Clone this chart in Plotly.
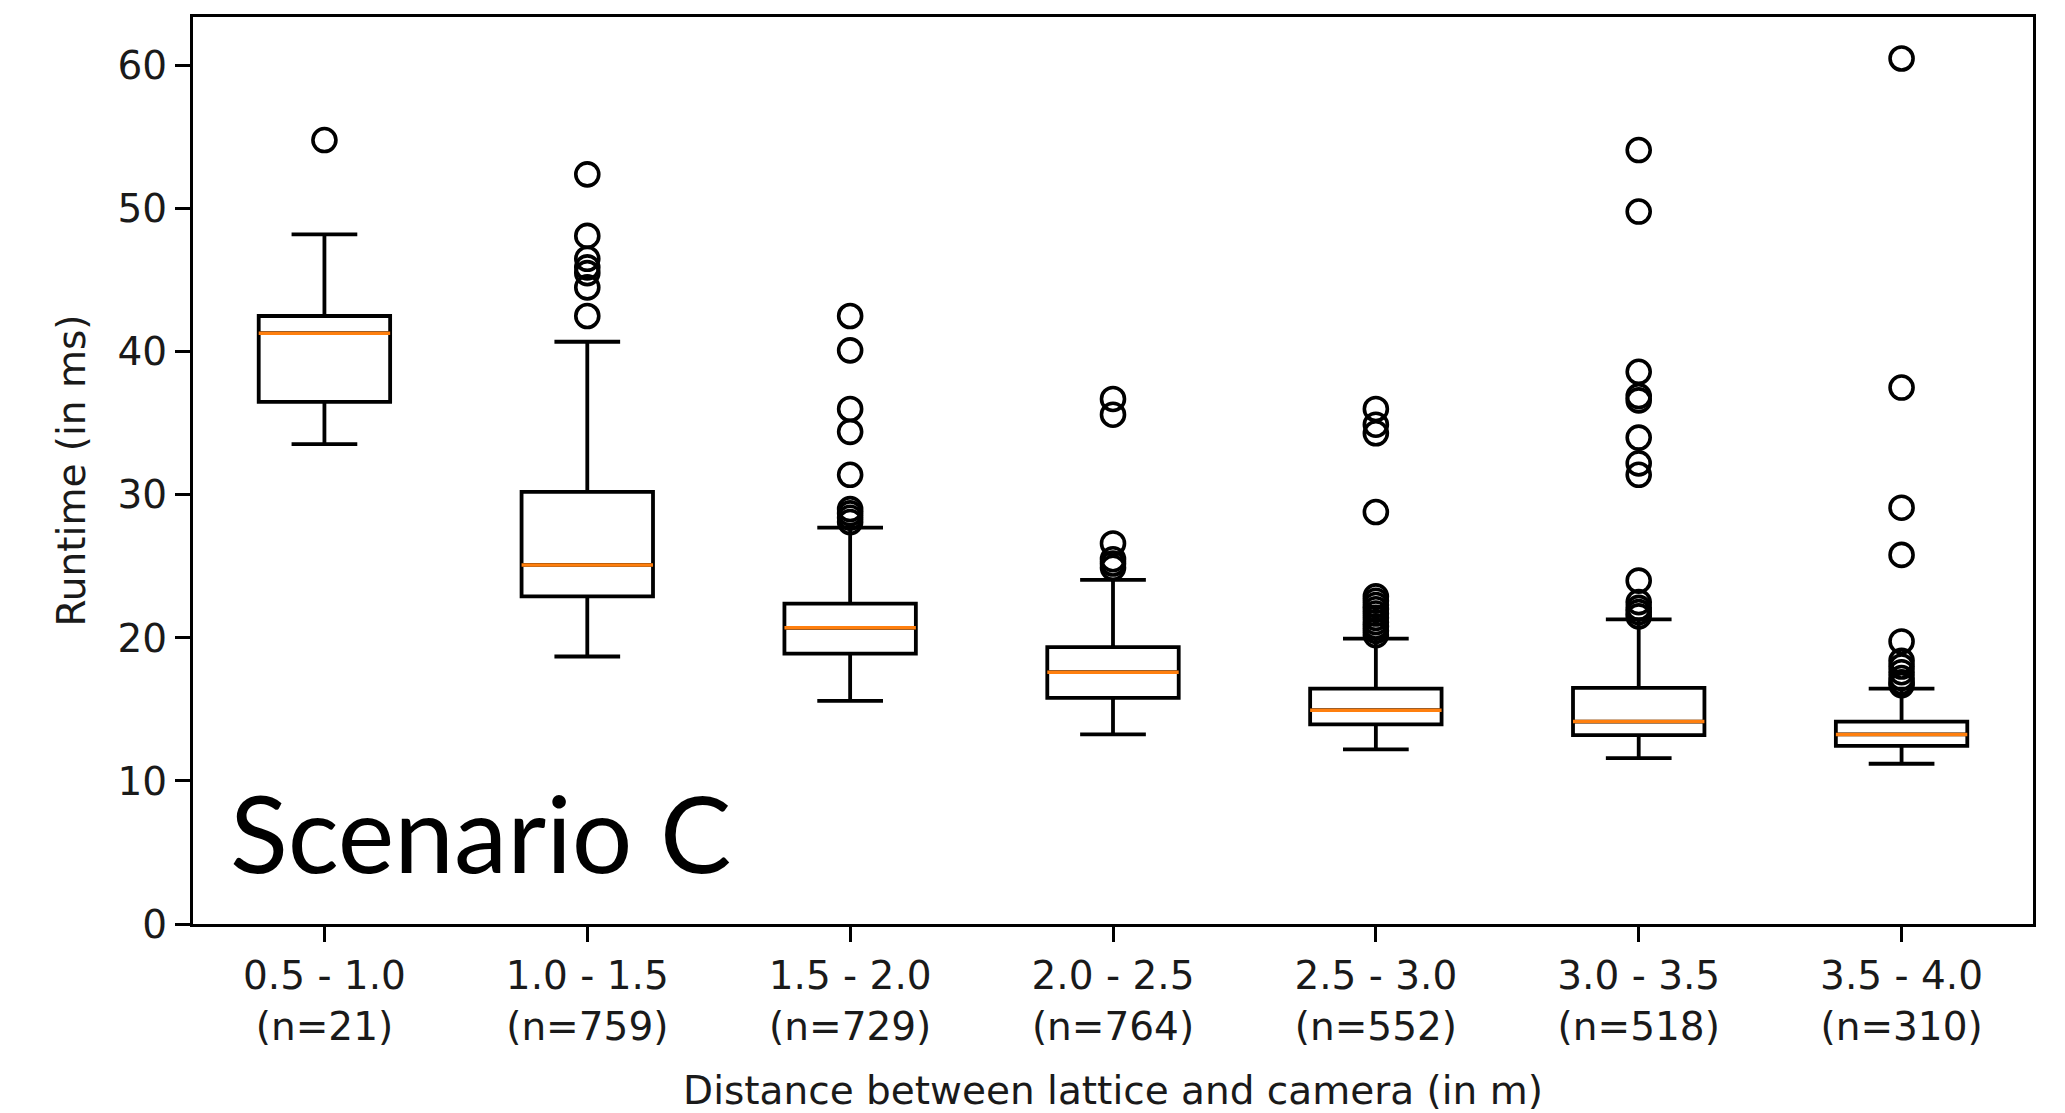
import plotly.graph_objects as go

# Distance bins and sample counts
bins = ["0.5 - 1.0", "1.0 - 1.5", "1.5 - 2.0", "2.0 - 2.5", "2.5 - 3.0", "3.0 - 3.5", "3.5 - 4.0"]
counts = [21, 759, 729, 764, 552, 518, 310]

# Box statistics per bin (runtime in ms)
lower_whisker = [33.55, 18.7, 15.6, 13.25, 12.2, 11.6, 11.2]
q1 = [36.5, 22.9, 18.9, 15.8, 13.95, 13.2, 12.45]
median = [41.3, 25.1, 20.7, 17.6, 14.95, 14.15, 13.25]
q3 = [42.5, 30.2, 22.4, 19.35, 16.45, 16.5, 14.15]
upper_whisker = [48.2, 40.7, 27.7, 24.05, 19.95, 21.3, 16.45]

# Outliers per bin
outliers = [
    [54.8],
    [52.4, 48.1, 46.5, 45.9, 45.5, 44.5, 42.5],
    [42.5, 40.1, 36.0, 34.4, 31.4, 29.0, 28.7, 28.4, 28.1],
    [36.7, 35.6, 26.6, 25.5, 25.2, 24.9],
    [36.0, 34.9, 34.3, 28.8, 22.9, 22.6, 22.3, 22.0, 21.7, 21.4, 21.1, 20.8, 20.5, 20.2],
    [54.1, 49.8, 38.6, 36.9, 36.6, 34.0, 32.2, 31.4, 24.0, 22.5, 22.1, 21.8, 21.5],
    [60.5, 37.5, 29.1, 25.8, 19.75, 18.4, 18.0, 17.6, 17.2, 16.9, 16.7],
]

positions = list(range(1, len(bins) + 1))
box_width = 0.5
tick_text = [f"{b}<br>(n={n})" for b, n in zip(bins, counts)]

FONT = "DejaVu Sans"
W, H = 2065, 1113

fig = go.Figure()

fig.add_trace(go.Box(
    x=positions,
    q1=q1, median=median, q3=q3,
    lowerfence=lower_whisker, upperfence=upper_whisker,
    width=box_width,
    whiskerwidth=0.5,
    line=dict(color="black", width=3.8),
    fillcolor="rgba(0,0,0,0)",
    boxpoints=False,
    showlegend=False,
    hoverinfo="skip",
))

# Orange median lines
mx, my = [], []
for p, m in zip(positions, median):
    mx += [p - box_width / 2, p + box_width / 2, None]
    my += [m, m, None]
fig.add_trace(go.Scatter(
    x=mx, y=my, mode="lines",
    line=dict(color="#ff7f0e", width=3.5),
    showlegend=False, hoverinfo="skip",
))

# Outlier markers
ox, oy = [], []
for p, vals in zip(positions, outliers):
    ox += [p] * len(vals)
    oy += vals
fig.add_trace(go.Scatter(
    x=ox, y=oy, mode="markers",
    marker=dict(symbol="circle-open", size=23, color="black", line=dict(width=3.6)),
    showlegend=False, hoverinfo="skip",
))

fig.add_annotation(
    text="Scenario C",
    xref="paper", yref="paper",
    x=0.019, y=0.029,
    xanchor="left", yanchor="bottom",
    showarrow=False,
    font=dict(family="Lato", size=107, color="black"),
)

fig.update_layout(
    width=W, height=H,
    margin=dict(l=193, r=32, t=17, b=189),
    paper_bgcolor="white",
    plot_bgcolor="white",
    font=dict(family=FONT, size=39, color="#1a1a1a"),
)

fig.update_xaxes(
    range=[0.5, 7.5], automargin=False,
    tickmode="array", tickvals=positions, ticktext=tick_text,
    ticks="outside", ticklen=15, tickwidth=3, tickcolor="black",
    showline=True, linecolor="black", linewidth=3, mirror=True,
    showgrid=False, zeroline=False,
    title=dict(text="Distance between lattice and camera (in m)", standoff=31,
               font=dict(family=FONT, size=39, color="#1a1a1a")),
)

fig.update_yaxes(
    range=[0, 63.4], automargin=False,
    tickmode="array", tickvals=[0, 10, 20, 30, 40, 50, 60],
    ticks="outside", ticklen=15, tickwidth=3, tickcolor="black",
    showline=True, linecolor="black", linewidth=3, mirror=True,
    showgrid=False, zeroline=False,
    title=dict(text="Runtime (in ms)", standoff=20,
               font=dict(family=FONT, size=39, color="#1a1a1a")),
)

fig.write_html("out.html")
